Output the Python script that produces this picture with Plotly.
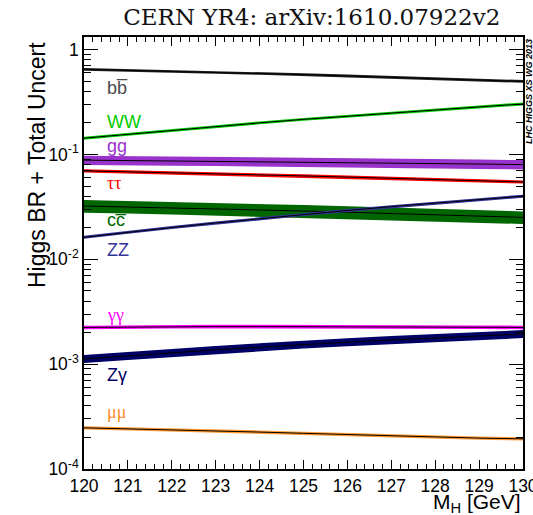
import numpy as np
import plotly.graph_objects as go

# Higgs mass points [GeV]
mass = [120, 121, 122, 123, 124, 125, 126, 127, 128, 129, 130]

# Branching ratios per decay channel
br_bb = [0.648, 0.635, 0.621, 0.607, 0.592, 0.577, 0.561, 0.545, 0.529, 0.513, 0.497]
br_ww = [0.143, 0.156, 0.170, 0.185, 0.200, 0.216, 0.232, 0.249, 0.266, 0.284, 0.303]
br_gg = [0.0882, 0.0875, 0.0868, 0.0861, 0.0854, 0.0846, 0.0838, 0.0829, 0.0820, 0.0810, 0.0800]
br_tautau = [0.0698, 0.0684, 0.0670, 0.0655, 0.0640, 0.0624, 0.0608, 0.0592, 0.0575, 0.0560, 0.0546]
br_cc = [0.0322, 0.0316, 0.0310, 0.0303, 0.0296, 0.0289, 0.0281, 0.0274, 0.0266, 0.0258, 0.0251]
br_zz = [0.0162, 0.0181, 0.0201, 0.0222, 0.0244, 0.0267, 0.0292, 0.0318, 0.0344, 0.0371, 0.0400]
br_gamgam = [0.00224, 0.00226, 0.00227, 0.00228, 0.00228, 0.00228, 0.00228, 0.00227, 0.00226, 0.00225, 0.00224]
br_zgam = [0.00112, 0.00120, 0.00128, 0.00137, 0.00145, 0.00154, 0.00162, 0.00170, 0.00178, 0.00186, 0.00194]
br_mumu = [0.000247, 0.000242, 0.000237, 0.000231, 0.000225, 0.000219, 0.000213, 0.000207, 0.000201, 0.000197, 0.000194]

# Relative total uncertainty (symmetric) per channel
unc_bb = 0.012
unc_ww = 0.015
unc_gg = 0.085
unc_tautau = 0.017
unc_cc = 0.12
unc_zz = 0.015
unc_gamgam = 0.021
unc_zgam = 0.07
unc_mumu = 0.018

channel_labels = ["bb\u0305", "WW", "gg", "\u03c4\u03c4", "cc\u0305", "ZZ", "\u03b3\u03b3", "Z\u03b3", "\u03bc\u03bc"]

channels = [
    (br_bb, unc_bb, "#222222", "#4a4a4a"),
    (br_ww, unc_ww, "#00cc00", "#00cc00"),
    (br_gg, unc_gg, "#9933cc", "#9933cc"),
    (br_tautau, unc_tautau, "#ff0000", "#ff0000"),
    (br_cc, unc_cc, "#006600", "#006600"),
    (br_zz, unc_zz, "#333399", "#333399"),
    (br_gamgam, unc_gamgam, "#ff00ff", "#ff00ff"),
    (br_zgam, unc_zgam, "#000066", "#000066"),
    (br_mumu, unc_mumu, "#ff9933", "#ff8a1f"),
]
# label anchor heights (log10 of BR axis)
label_logy = [-0.369, -0.692, -0.921, -1.273, -1.626, -1.911, -2.530, -3.102, -3.454]

fig = go.Figure()
for (vals, unc, band_col, _), name in zip(channels, channel_labels):
    v = np.array(vals)
    up = v * (1 + unc)
    lo = v * (1 - unc)
    fig.add_trace(go.Scatter(
        x=mass + mass[::-1], y=list(up) + list(lo[::-1]),
        fill="toself", fillcolor=band_col, mode="lines",
        line=dict(color=band_col, width=1.6), showlegend=False, hoverinfo="skip"))
    fig.add_trace(go.Scatter(
        x=mass, y=vals, mode="lines", line=dict(color="black", width=1),
        showlegend=False, name=name))

sans = "Liberation Sans, Arial, sans-serif"
serif = "Liberation Serif, Times New Roman, serif"
for (vals, unc, _, txt_col), name, ly in zip(channels, channel_labels, label_logy):
    pure_greek = name[0] in "\u03c4\u03b3\u03bc"
    fig.add_annotation(
        x=120.48, y=ly, xref="x", yref="y", text=name, showarrow=False,
        xanchor="left", yanchor="middle",
        font=dict(family=serif if pure_greek else sans, size=18, color=txt_col))

y_major = [1e-4, 1e-3, 1e-2, 1e-1, 1]
y_major_text = ["10<sup>-4</sup>", "10<sup>-3</sup>", "10<sup>-2</sup>", "10<sup>-1</sup>", "1"]
y_minor = [m * 10.0 ** e for e in range(-4, 1) for m in range(2, 10) if m * 10.0 ** e < 1.32]

fig.update_layout(
    width=533, height=515,
    margin=dict(l=84, r=10, t=37, b=46),
    paper_bgcolor="white", plot_bgcolor="white",
    showlegend=False,
    title=dict(text="CERN YR4: arXiv:1610.07922v2", x=0.585, xanchor="center",
               y=0.967, yanchor="middle",
               font=dict(family="DejaVu Serif, serif", size=23, color="#111111")),
    xaxis=dict(
        range=[120, 130], tickmode="linear", tick0=120, dtick=1,
        ticks="inside", ticklen=9, tickwidth=1, tickcolor="black",
        showline=True, linecolor="black", linewidth=1.5, mirror="allticks",
        showgrid=False, zeroline=False, ticklabeloverflow="allow", automargin=False,
        tickfont=dict(family=sans, size=17.5, color="black"),
        minor=dict(dtick=0.2, ticks="inside", ticklen=5, tickcolor="black", showgrid=False),
    ),
    yaxis=dict(
        type="log", range=[-4, 0.12],
        tickmode="array", tickvals=y_major, ticktext=y_major_text,
        ticks="inside", ticklen=14, tickwidth=1, tickcolor="black",
        showline=True, linecolor="black", linewidth=1.5, mirror="allticks",
        showgrid=False, zeroline=False, ticklabeloverflow="allow", automargin=False,
        tickfont=dict(family=sans, size=17.5, color="black"),
        minor=dict(tickmode="array", tickvals=y_minor, ticks="inside", ticklen=7,
                   tickcolor="black", showgrid=False),
    ),
)

plot_w, plot_h = 439.0, 432.0


def px_x(px):
    return (px - 84) / plot_w


def px_y(py):
    return (469.0 - py) / plot_h


fig.add_annotation(
    x=px_x(37), y=px_y(165), xref="paper", yref="paper", text="Higgs BR + Total Uncert",
    showarrow=False, textangle=-90, xanchor="center", yanchor="middle",
    font=dict(family=sans, size=23, color="black"))
fig.add_annotation(
    x=1.0, y=px_y(503), xref="paper", yref="paper", text="M<sub>H</sub> [GeV]",
    showarrow=False, xanchor="right", yanchor="middle",
    font=dict(family=sans, size=21, color="black"))
fig.add_annotation(
    x=px_x(529), y=px_y(92), xref="paper", yref="paper",
    text="<b><i>LHC HIGGS XS WG 2013</i></b>",
    showarrow=False, textangle=-90, xanchor="center", yanchor="middle",
    font=dict(family=sans, size=9, color="black"))

fig.write_html("out.html")
